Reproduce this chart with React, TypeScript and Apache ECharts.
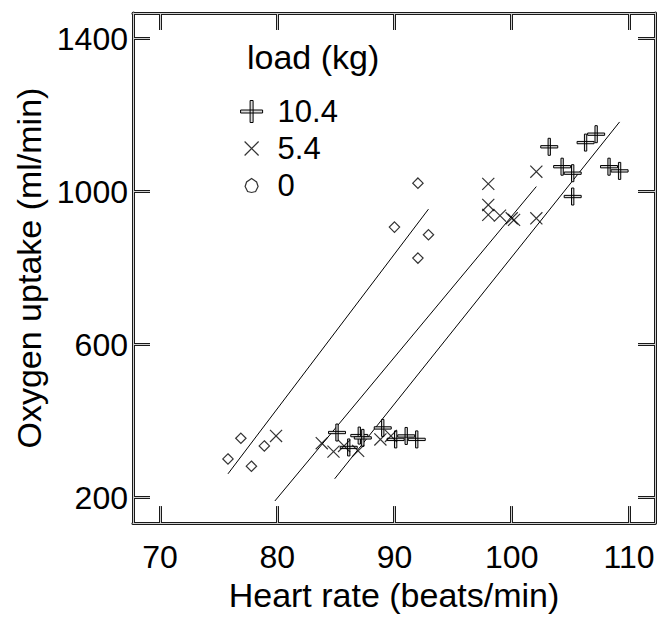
import React, { useEffect, useRef } from "react";
import * as echarts from "echarts";

// ---- data ----
const legendNames = ["10.4", "5.4", "0"];
const xTicks = [70, 80, 90, 100, 110];
const yTicks = [200, 600, 1000, 1400];

// load 10.4 kg (plus markers)
const load104: number[][] = [
  [85.1, 370], [86.1, 331], [87.0, 362], [87.3, 356], [89.0, 382],
  [90.1, 352], [91.0, 361], [91.9, 352],
  [103.2, 1117], [104.3, 1065], [105.2, 1048], [105.2, 987],
  [106.3, 1128], [107.2, 1150], [108.3, 1065], [109.2, 1054],
];
// load 5.4 kg (x markers)
const load54: number[][] = [
  [79.9, 361], [83.8, 342], [84.8, 320], [85.7, 335], [86.9, 322],
  [88.8, 352], [89.7, 361],
  [98.0, 1020], [98.0, 965], [98.0, 939], [99.0, 937], [100.0, 930],
  [100.2, 926], [102.1, 1052], [102.1, 930],
];
// load 0 kg (diamond markers)
const load0: number[][] = [
  [75.8, 301], [76.9, 355], [77.8, 282], [78.9, 335],
  [90.0, 907], [92.0, 1022], [92.0, 826], [92.9, 887],
];
// fitted lines (end points)
const fit104: number[][] = [[84.9, 249], [109.2, 1182]];
const fit54: number[][] = [[79.8, 191], [102.1, 1013]];
const fit0: number[][] = [[75.8, 262], [92.9, 954]];

const FONT = "'Liberation Sans', Arial, Helvetica, sans-serif";

const plusPath = "path://M9.5,0L12.5,0L12.5,22L9.5,22ZM0,9.5L22,9.5L22,12.5L0,12.5Z";
const crossPath = "path://M0,0M22,22M4,4L18,18M18,4L4,18";
const diamondPath = "path://M0,0M22,22M11,5L17,11L11,17L5,11Z";
const zeroIconPath =
  "path://M0,0M22,22M11,4L16,7.5L17.5,12L15,17L11,18L7,17L4.5,12L6,7.5Z";

const DARK = "#1a1a1a";
const LIGHT = "#d0d0d0";

export default function App() {
  const ref = useRef<HTMLDivElement>(null);
  useEffect(() => {
    if (!ref.current) return;
    const chart = echarts.init(ref.current, null, { renderer: "svg" });

    const xRange = { min: 67.7, max: 112.22 };
    const yRange = { min: 133.2, max: 1466.8 };

    const mkX = (pos: "bottom" | "top", dark: boolean, main: boolean) => ({
      type: "value",
      position: pos,
      ...xRange,
      z: dark ? 0 : 1,
      splitLine: { show: false },
      axisLine: { show: true, onZero: false, lineStyle: { color: dark ? DARK : LIGHT, width: dark ? 3 : 1 } },
      axisTick: { show: true, inside: true, length: 17, customValues: xTicks, lineStyle: { color: dark ? DARK : LIGHT, width: dark ? 3 : 1 } },
      axisLabel: main
        ? { show: true, customValues: xTicks, margin: 18, fontSize: 32, color: "#000", fontFamily: FONT, formatter: (v: number) => String(v) }
        : { show: false },
      name: main ? "Heart rate (beats/min)" : "",
      nameLocation: "middle",
      nameGap: 53,
      nameTextStyle: { fontSize: 34, color: "#000", fontFamily: FONT },
    });
    const mkY = (pos: "left" | "right", dark: boolean, main: boolean) => ({
      type: "value",
      position: pos,
      ...yRange,
      z: dark ? 0 : 1,
      splitLine: { show: false },
      axisLine: { show: true, onZero: false, lineStyle: { color: dark ? DARK : LIGHT, width: dark ? 3 : 1 } },
      axisTick: { show: true, inside: true, length: 17, customValues: yTicks, lineStyle: { color: dark ? DARK : LIGHT, width: dark ? 3 : 1 } },
      axisLabel: main
        ? { show: true, customValues: yTicks, margin: 5, fontSize: 32, color: "#000", fontFamily: FONT, formatter: (v: number) => String(v) }
        : { show: false },
      name: main ? "Oxygen uptake (ml/min)" : "",
      nameLocation: "middle",
      nameGap: 85,
      nameTextStyle: { fontSize: 34, color: "#000", fontFamily: FONT },
    });

    const lineSeries = (data: number[][]) => ({
      type: "line",
      data,
      showSymbol: false,
      symbol: "none",
      lineStyle: { color: "#000", width: 1 },
      z: 1,
      silent: true,
    });

    chart.setOption({
      animation: false,
      backgroundColor: "#fff",
      grid: { left: 133, right: 3, top: 13, bottom: 85, containLabel: false },
      title: {
        text: "load (kg)",
        left: 247,
        top: 40,
        padding: 0,
        textStyle: { fontSize: 34, fontWeight: "normal", color: "#000", fontFamily: FONT },
      },
      legend: {
        orient: "vertical",
        left: 240,
        top: 96,
        itemWidth: 22,
        itemHeight: 22,
        itemGap: 6,
        selectedMode: false,
        padding: 0,
        textStyle: { fontSize: 31, color: "#000", fontFamily: FONT, lineHeight: 30, padding: [0, 0, 0, 10] },
        data: [
          { name: legendNames[0], icon: plusPath, itemStyle: { color: "#dcdcdc", borderColor: "#000", borderWidth: 1 } },
          { name: legendNames[1], icon: crossPath, itemStyle: { color: "transparent", borderColor: "#000", borderWidth: 1.2 } },
          { name: legendNames[2], icon: zeroIconPath, itemStyle: { color: "transparent", borderColor: "#000", borderWidth: 1.2 } },
        ],
      },
      xAxis: [mkX("bottom", true, true), mkX("bottom", false, false), mkX("top", true, false), mkX("top", false, false)],
      yAxis: [mkY("left", true, true), mkY("left", false, false), mkY("right", true, false), mkY("right", false, false)],
      series: [
        {
          name: legendNames[0],
          type: "scatter",
          data: load104,
          symbol: plusPath,
          symbolSize: 17,
          itemStyle: { color: "#dcdcdc", borderColor: "#000", borderWidth: 1, opacity: 1 },
          z: 3,
        },
        {
          name: legendNames[1],
          type: "scatter",
          data: load54,
          symbol: crossPath,
          symbolSize: 19,
          itemStyle: { color: "transparent", borderColor: "#000", borderWidth: 1.2 },
          z: 4,
        },
        {
          name: legendNames[2],
          type: "scatter",
          data: load0,
          symbol: diamondPath,
          symbolSize: 19,
          itemStyle: { color: "transparent", borderColor: "#000", borderWidth: 1.2 },
          z: 4,
        },
        lineSeries(fit104),
        lineSeries(fit54),
        lineSeries(fit0),
      ],
    });
    return () => chart.dispose();
  }, []);
  return (
    <div
      ref={ref}
      style={{ position: "fixed", left: 0, top: 0, width: 658, height: 617, background: "#fff" }}
    />
  );
}
